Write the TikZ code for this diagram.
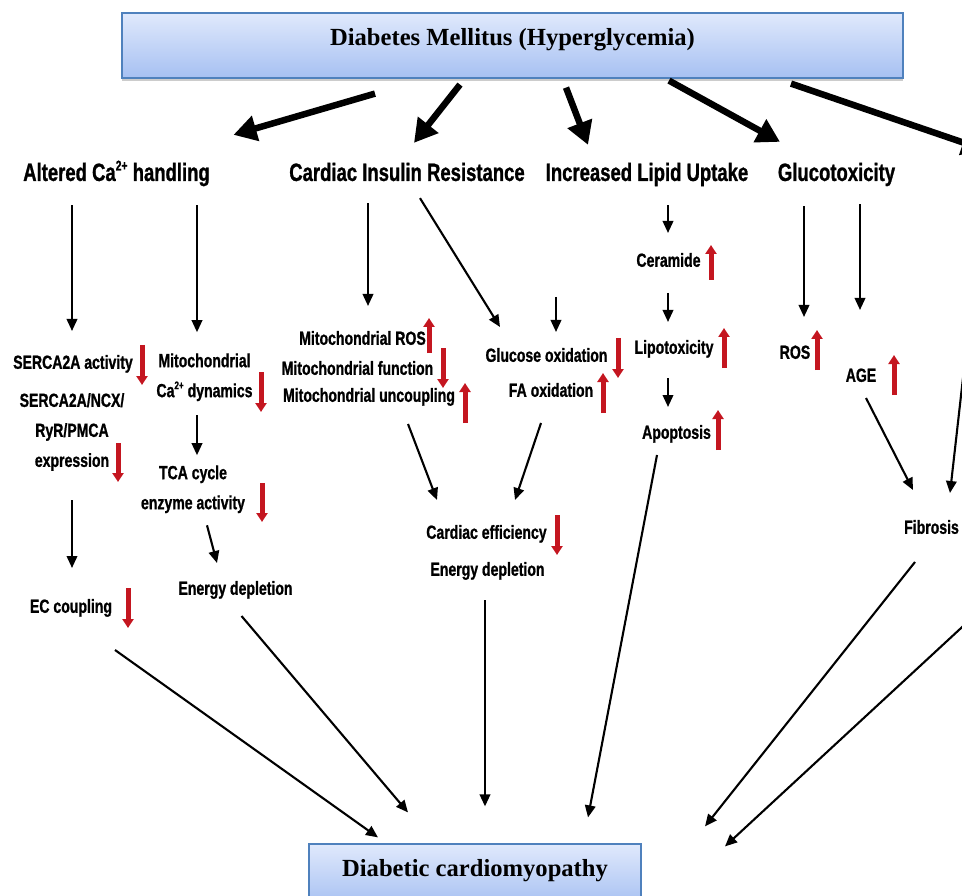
\documentclass[tikz,border=0pt]{standalone}
\usepackage{fontspec}
\setmainfont{Liberation Serif}
\newfontfamily\condsf[FakeStretch=0.74,FakeBold=1]{Liberation Sans}
\usetikzlibrary{arrows.meta,shadows}
\definecolor{boxtop}{RGB}{224,233,252}
\definecolor{boxbot}{RGB}{166,192,242}
\definecolor{boxline}{RGB}{79,129,189}
\definecolor{markred}{RGB}{196,22,32}
\newcommand\capow[1]{\raisebox{0.42em}{\fontsize{#1}{#1}\selectfont 2+}}

\begin{document}
\begin{tikzpicture}[x=1pt,y=-1pt,
  titlebox/.style={draw=boxline,line width=1.2pt,top color=boxtop,bottom color=boxbot,
    font=\bfseries\fontsize{24.6}{29}\selectfont,text height=16.3pt},
  head/.style={font=\condsf\bfseries\fontsize{25}{30}\selectfont,inner sep=0pt,text height=17.9pt,text depth=0pt},
  lbl/.style={font=\condsf\bfseries\fontsize{19}{30}\selectfont,inner sep=0pt,text height=13.6pt,text depth=0pt},
  blk/.style={font=\condsf\bfseries\fontsize{19}{30}\selectfont,inner sep=0pt,align=center,anchor=north},
  bigarr/.style={line width=6.5pt,-{Triangle[length=23pt,width=25pt]}},
  arr/.style={line width=2.1pt,-{Triangle[length=12pt,width=10.5pt]}},
  redarr/.style={markred,line width=5pt,-{Triangle[length=9pt,width=11pt]}}]
\useasboundingbox (0,0) rectangle (962,896);

\node[titlebox,minimum width=781pt,minimum height=65pt,text depth=16pt,
  drop shadow={shadow xshift=0pt,shadow yshift=-3pt,fill=black!40}] (dm) at (512.5,45.5) {Diabetes Mellitus (Hyperglycemia)};
\node[titlebox,minimum width=332pt,minimum height=62pt,text depth=12.5pt] (dcm) at (475,875) {Diabetic cardiomyopathy};

\node[head] (altca) at (116.5,172) {Altered Ca\capow{14} handling};
\node[head] (cir) at (407,172) {Cardiac Insulin Resistance};
\node[head] (ilu) at (647,172) {Increased Lipid Uptake};
\node[head] (gluc) at (836.5,172) {Glucotoxicity};

\node[lbl] (sercaact) at (73,362) {SERCA2A activity};
\node[blk] (sercaexp) at (72,392.9) {SERCA2A/NCX/\\RyR/PMCA\\expression};
\node[lbl] (ecc) at (71,606) {EC coupling};
\node[blk] (mitoca) at (204.5,353.2) {Mitochondrial\\Ca\capow{11} dynamics};
\node[blk] (tca) at (193,465.2) {TCA cycle\\enzyme activity};
\node[lbl] (energyA) at (235.5,588) {Energy depletion};

\node[lbl] (mros) at (362.5,338) {Mitochondrial ROS};
\node[lbl] (mfun) at (357.5,368) {Mitochondrial function};
\node[lbl] (munc) at (369,395) {Mitochondrial uncoupling};
\node[lbl] (gox) at (546.5,355) {Glucose oxidation};
\node[lbl] (faox) at (551,390) {FA oxidation};
\node[lbl] (ceff) at (486.5,532) {Cardiac efficiency};
\node[lbl] (energyB) at (487.5,569) {Energy depletion};

\node[lbl] (cer) at (668.5,260) {Ceramide};
\node[lbl] (lipo) at (674,347) {Lipotoxicity};
\node[lbl] (apo) at (676.5,432) {Apoptosis};

\node[lbl] (ros) at (795,352) {ROS};
\node[lbl] (age) at (861,375) {AGE};
\node[lbl] (fib) at (931.5,527) {Fibrosis};

\coordinate (offtop) at (985,150);
\coordinate (faflow) at (556,297);
\coordinate (sideA) at (973.5,285);
\coordinate (sideB) at (1000,592);

\draw[bigarr] ([shift={(-137.5,15)}]dm.south) -- ([shift={(117,-28)}]altca.north);
\draw[bigarr] ([shift={(-52.5,6)}]dm.south) -- ([shift={(7,-20)}]cir.north);
\draw[bigarr] ([shift={(53.5,9)}]dm.south) -- ([shift={(-59,-18)}]ilu.north);
\draw[bigarr] ([shift={(156.5,2)}]dm.south) -- ([shift={(-56.5,-21)}]gluc.north);
\draw[bigarr] ([shift={(278.5,5)}]dm.south) -- (offtop);

\draw[arr] ([shift={(-44.5,24)}]altca.south) -- ([shift={(-1,-24)}]sercaact.north);
\draw[arr] ([shift={(80.5,24)}]altca.south) -- ([shift={(-7.5,-21)}]mitoca.north);
\draw[arr] ([shift={(0,29)}]sercaexp.south) -- ([shift={(1,-31)}]ecc.north);
\draw[arr] ([shift={(-7.5,14)}]mitoca.south) -- ([shift={(4,-10)}]tca.north);
\draw[arr] ([shift={(14,12)}]tca.south) -- ([shift={(-18.5,-18)}]energyA.north);
\draw[arr] ([shift={(44,37)}]ecc.south) -- ([shift={(-97,-6)}]dcm.north);
\draw[arr] ([shift={(6,21)}]energyA.south) -- ([shift={(-67,-31)}]dcm.north);

\draw[arr] ([shift={(-39,22)}]cir.south) -- ([shift={(5.5,-25)}]mros.north);
\draw[arr] ([shift={(13,17)}]cir.south) -- ([shift={(-46.5,-21)}]gox.north);
\draw[arr] (faflow) -- ([shift={(9.5,-16)}]gox.north);
\draw[arr] ([shift={(39,22)}]munc.south) -- ([shift={(-49.5,-25)}]ceff.north);
\draw[arr] ([shift={(-10,26)}]faox.south) -- ([shift={(28.5,-25)}]ceff.north);
\draw[arr] ([shift={(-2.5,24)}]energyB.south) -- ([shift={(10,-37)}]dcm.north);

\draw[arr] ([shift={(21,24)}]ilu.south) -- ([shift={(-0.5,-20)}]cer.north);
\draw[arr] ([shift={(-0.5,26)}]cer.south) -- ([shift={(-6,-18)}]lipo.north);
\draw[arr] ([shift={(-6,24)}]lipo.south) -- ([shift={(-8.5,-18)}]apo.north);
\draw[arr] ([shift={(-19.5,16)}]apo.south) -- ([shift={(113,-26)}]dcm.north);

\draw[arr] ([shift={(-32.5,25)}]gluc.south) -- ([shift={(9,-28)}]ros.north);
\draw[arr] ([shift={(23.5,23)}]gluc.south) -- ([shift={(-1,-58)}]age.north);
\draw[arr] ([shift={(5,16)}]age.south) -- ([shift={(-18.5,-30)}]fib.north);
\draw[arr] (sideA) -- ([shift={(18.5,-27)}]fib.north);
\draw[arr] ([shift={(-16.5,28)}]fib.south) -- ([shift={(230,-17)}]dcm.north);
\draw[arr] (sideB) -- ([shift={(250,3)}]dcm.north);

\draw[redarr] (142,345) -- (142,385);
\draw[redarr] (118,443) -- (118,482);
\draw[redarr] (128,588) -- (128,628);
\draw[redarr] (261,372) -- (261,412);
\draw[redarr] (262,483) -- (262,522);
\draw[redarr] (429,353) -- (429,318);
\draw[redarr] (443,348) -- (443,388);
\draw[redarr] (465,423) -- (465,383);
\draw[redarr] (618,338) -- (618,378);
\draw[redarr] (603,413) -- (603,373);
\draw[redarr] (557,515) -- (557,555);
\draw[redarr] (711,280) -- (711,245);
\draw[redarr] (724,368) -- (724,328);
\draw[redarr] (718,450) -- (718,410);
\draw[redarr] (817,370) -- (817,330);
\draw[redarr] (894,395) -- (894,355);
\end{tikzpicture}
\end{document}
